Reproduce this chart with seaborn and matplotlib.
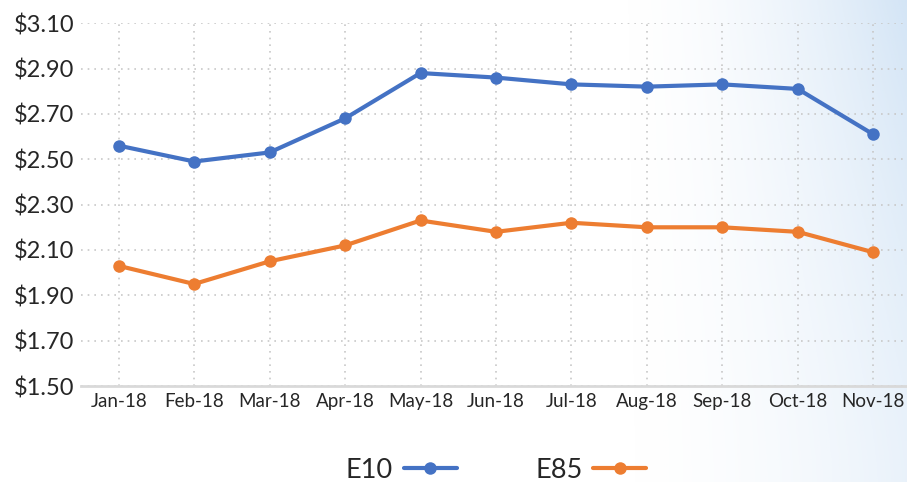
import numpy as np
import pandas as pd
import matplotlib
matplotlib.use("Agg")
import matplotlib.pyplot as plt
import seaborn as sns
from matplotlib.lines import Line2D

months = ["Jan-18", "Feb-18", "Mar-18", "Apr-18", "May-18", "Jun-18",
          "Jul-18", "Aug-18", "Sep-18", "Oct-18", "Nov-18"]
e10 = [2.56, 2.49, 2.53, 2.68, 2.88, 2.86, 2.83, 2.82, 2.83, 2.81, 2.61]
e85 = [2.03, 1.95, 2.05, 2.12, 2.23, 2.18, 2.22, 2.20, 2.20, 2.18, 2.09]
y_ticks = [1.50, 1.70, 1.90, 2.10, 2.30, 2.50, 2.70, 2.90, 3.10]

sns.set_style("white")
plt.rcParams["font.family"] = ["Lato", "DejaVu Sans"]

df = pd.DataFrame({
    "Month": months * 2,
    "Price": e10 + e85,
    "Fuel": ["E10"] * len(months) + ["E85"] * len(months),
})
colors = {"E10": "#4472C4", "E85": "#ED7D31"}

fig = plt.figure(figsize=(9.07, 4.82), dpi=100)

# soft blue wash on the right side, strongest at the top right
bg = fig.add_axes([0, 0, 1, 1], zorder=0)
gx = np.linspace(0, 1, 400)
gy = np.linspace(0, 1, 200)
X, Y = np.meshgrid(gx, gy)
alpha = np.clip((X - 0.68) / 0.32, 0, 1) ** 1.7 * (0.5 + 0.5 * (1 - Y) ** 1.5)
img = np.zeros((200, 400, 4))
img[..., 0] = 0.80
img[..., 1] = 0.88
img[..., 2] = 0.96
img[..., 3] = alpha * 0.85
bg.imshow(img, aspect="auto", extent=[0, 1, 0, 1], origin="upper")
bg.axis("off")

ax = fig.add_axes([0.0893, 0.199, 0.915, 0.753], zorder=1)
ax.patch.set_alpha(0)

for fuel in ["E10", "E85"]:
    sub = df[df["Fuel"] == fuel]
    sns.lineplot(data=sub, x="Month", y="Price", ax=ax, color=colors[fuel],
                 linewidth=3, marker="o", markersize=9, markeredgewidth=0,
                 sort=False, label=fuel)

ax.set_ylim(1.50, 3.10)
ax.set_xlim(-0.5, len(months) - 0.5)
ax.set_yticks(y_ticks)
ax.set_yticklabels([f"${v:.2f}" for v in y_ticks], fontsize=17, color="#262626")
ax.set_xticks(range(len(months)))
ax.set_xticklabels(months, fontsize=13.5, color="#262626")
ax.set_xlabel("")
ax.set_ylabel("")

ax.grid(True, color="#c8c8c8", linestyle=(0, (1, 3)), linewidth=1.2)
ax.set_axisbelow(True)
for s in ["top", "right", "left"]:
    ax.spines[s].set_visible(False)
ax.spines["bottom"].set_color("#d9d9d9")
ax.spines["bottom"].set_linewidth(2)
ax.tick_params(axis="both", length=0, pad=5)
ax.set_xticks(np.arange(-0.5, len(months), 1), minor=True)
ax.tick_params(axis="x", which="minor", length=3, color="#d9d9d9", width=1)

handles = [Line2D([], [], color=colors[f], linewidth=3, marker="o",
                  markersize=9, markeredgewidth=0) for f in ["E10", "E85"]]
ax.legend(handles, ["E10", "E85"], loc="center", bbox_to_anchor=(0.5, -0.232),
          ncol=2, frameon=False, markerfirst=False, fontsize=19.5,
          handlelength=1.95, columnspacing=2.9, handletextpad=0.4)

fig.savefig("out.png", dpi=100)
